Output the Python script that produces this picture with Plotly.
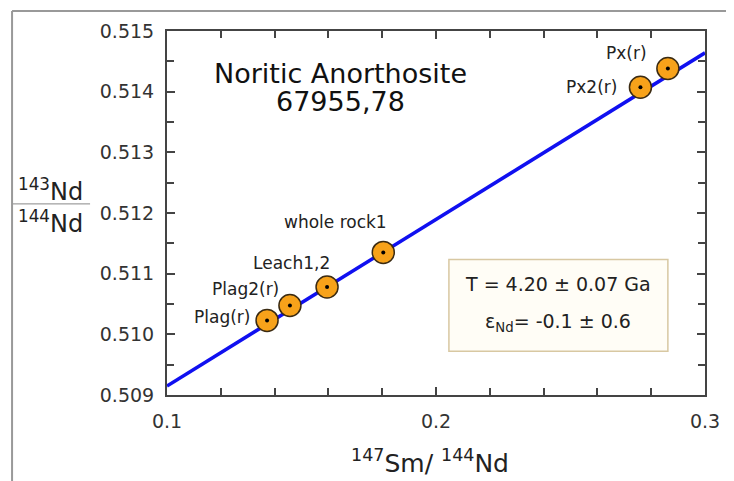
import plotly.graph_objects as go

# ---- data ----
sample_names = ["Plag(r)", "Plag2(r)", "Leach1,2", "whole rock1", "Px2(r)", "Px(r)"]
sm_nd = [0.1372, 0.1457, 0.1595, 0.1804, 0.2760, 0.2862]
nd_nd = [0.510230, 0.510475, 0.510780, 0.511350, 0.514072, 0.514382]

iso_x = [0.1, 0.3]
iso_intercept = 0.509148
iso_slope = 0.02746
iso_y = [iso_intercept + iso_slope * (x - iso_x[0]) for x in iso_x]

x_ticks = [0.1, 0.2, 0.3]
y_ticks = [0.509, 0.510, 0.511, 0.512, 0.513, 0.514, 0.515]

# label placement (style): xshift / yshift in px relative to point
label_dx = [-15, -9, 5, 6, -21, -19]
label_dy = [3, 17, 24, 30, 0, 15]

FONT = "DejaVu Sans"
TXT = "#222222"

fig = go.Figure()
fig.add_trace(go.Scatter(x=iso_x, y=iso_y, mode="lines",
                         line=dict(color="#1010f0", width=3.5),
                         hoverinfo="skip", showlegend=False))
fig.add_trace(go.Scatter(x=sm_nd, y=nd_nd, mode="markers",
                         marker=dict(size=22, color="#f7a21a",
                                     line=dict(color="#3a2a12", width=1.5)),
                         showlegend=False))
fig.add_trace(go.Scatter(x=sm_nd, y=nd_nd, mode="markers",
                         marker=dict(size=4, color="#000000"),
                         showlegend=False, hoverinfo="skip"))

for name, x, y, dx, dy in zip(sample_names, sm_nd, nd_nd, label_dx, label_dy):
    fig.add_annotation(x=x, y=y, text=name, showarrow=False,
                       xanchor="right", yanchor="middle",
                       xshift=dx, yshift=dy,
                       font=dict(family=FONT, size=17, color=TXT))

axis_common = dict(showline=True, linecolor="#444444", linewidth=2,
                   mirror="ticks", ticks="inside", tickcolor="#444444",
                   showgrid=False, zeroline=False,
                   tickfont=dict(family=FONT, size=19, color="#333333"))

fig.update_xaxes(range=[0.1, 0.3], tickvals=x_ticks, ticktext=["0.1", "0.2", "0.3"],
                 ticklen=8, tickwidth=2, ticklabelstandoff=8,
                 minor=dict(dtick=0.02, ticks="inside", ticklen=7, tickwidth=1.5,
                            tickcolor="#444444"),
                 **axis_common)
fig.update_yaxes(range=[0.509, 0.515], tickvals=y_ticks,
                 ticktext=[f"{v:.3f}" for v in y_ticks],
                 ticklen=8, tickwidth=2, ticklabelstandoff=7,
                 minor=dict(dtick=0.0005, ticks="inside", ticklen=7, tickwidth=1.5,
                            tickcolor="#444444"),
                 **axis_common)

# title inside the plot
fig.add_annotation(xref="paper", yref="paper", x=0.322, y=0.883, text="Noritic Anorthosite",
                   showarrow=False, xanchor="center", yanchor="middle",
                   font=dict(family=FONT, size=27, color="#111111"))
fig.add_annotation(xref="paper", yref="paper", x=0.322, y=0.806, text="67955,78",
                   showarrow=False, xanchor="center", yanchor="middle",
                   font=dict(family=FONT, size=27, color="#111111"))

# result box
fig.add_shape(type="rect", xref="paper", yref="paper", x0=0.524, x1=0.931, y0=0.120, y1=0.372,
              fillcolor="#fffdf6", line=dict(color="#d8c8a2", width=1.5), layer="below")
fig.add_annotation(xref="paper", yref="paper", x=0.727, y=0.306, text="T = 4.20 ± 0.07 Ga",
                   showarrow=False, xanchor="center", yanchor="middle",
                   font=dict(family=FONT, size=19, color=TXT))
fig.add_annotation(xref="paper", yref="paper", x=0.727, y=0.200,
                   text="ε<sub>Nd</sub>= -0.1 ± 0.6",
                   showarrow=False, xanchor="center", yanchor="middle",
                   font=dict(family=FONT, size=19, color=TXT))

# axis titles
fig.add_annotation(xref="paper", yref="paper", x=0.489, y=-0.183,
                   text="<sup>147</sup>Sm/ <sup>144</sup>Nd",
                   showarrow=False, xanchor="center", yanchor="middle",
                   font=dict(family=FONT, size=25, color=TXT))
fig.add_annotation(xref="paper", yref="paper", x=-0.216, y=0.562,
                   text="<sup>143</sup>Nd", showarrow=False,
                   xanchor="center", yanchor="middle",
                   font=dict(family=FONT, size=24, color=TXT))
fig.add_annotation(xref="paper", yref="paper", x=-0.216, y=0.474,
                   text="<sup>144</sup>Nd", showarrow=False,
                   xanchor="center", yanchor="middle",
                   font=dict(family=FONT, size=24, color=TXT))
fig.add_shape(type="line", xref="paper", yref="paper", x0=-0.288, x1=-0.143,
              y0=0.525, y1=0.525, line=dict(color="#888888", width=1))

# outer frame (left + top)
fig.add_shape(type="line", xref="paper", yref="paper", x0=-0.288, x1=-0.288,
              y0=-0.25, y1=1.055, line=dict(color="#999999", width=2))
fig.add_shape(type="line", xref="paper", yref="paper", x0=-0.288, x1=1.06,
              y0=1.055, y1=1.055, line=dict(color="#999999", width=2))

# page body has an 8px margin, so the figure is 8px smaller and its margins shifted
fig.update_layout(width=726, height=473,
                  margin=dict(l=159, r=29, t=21, b=86),
                  paper_bgcolor="white", plot_bgcolor="white",
                  showlegend=False)

fig.write_html("out.html")
